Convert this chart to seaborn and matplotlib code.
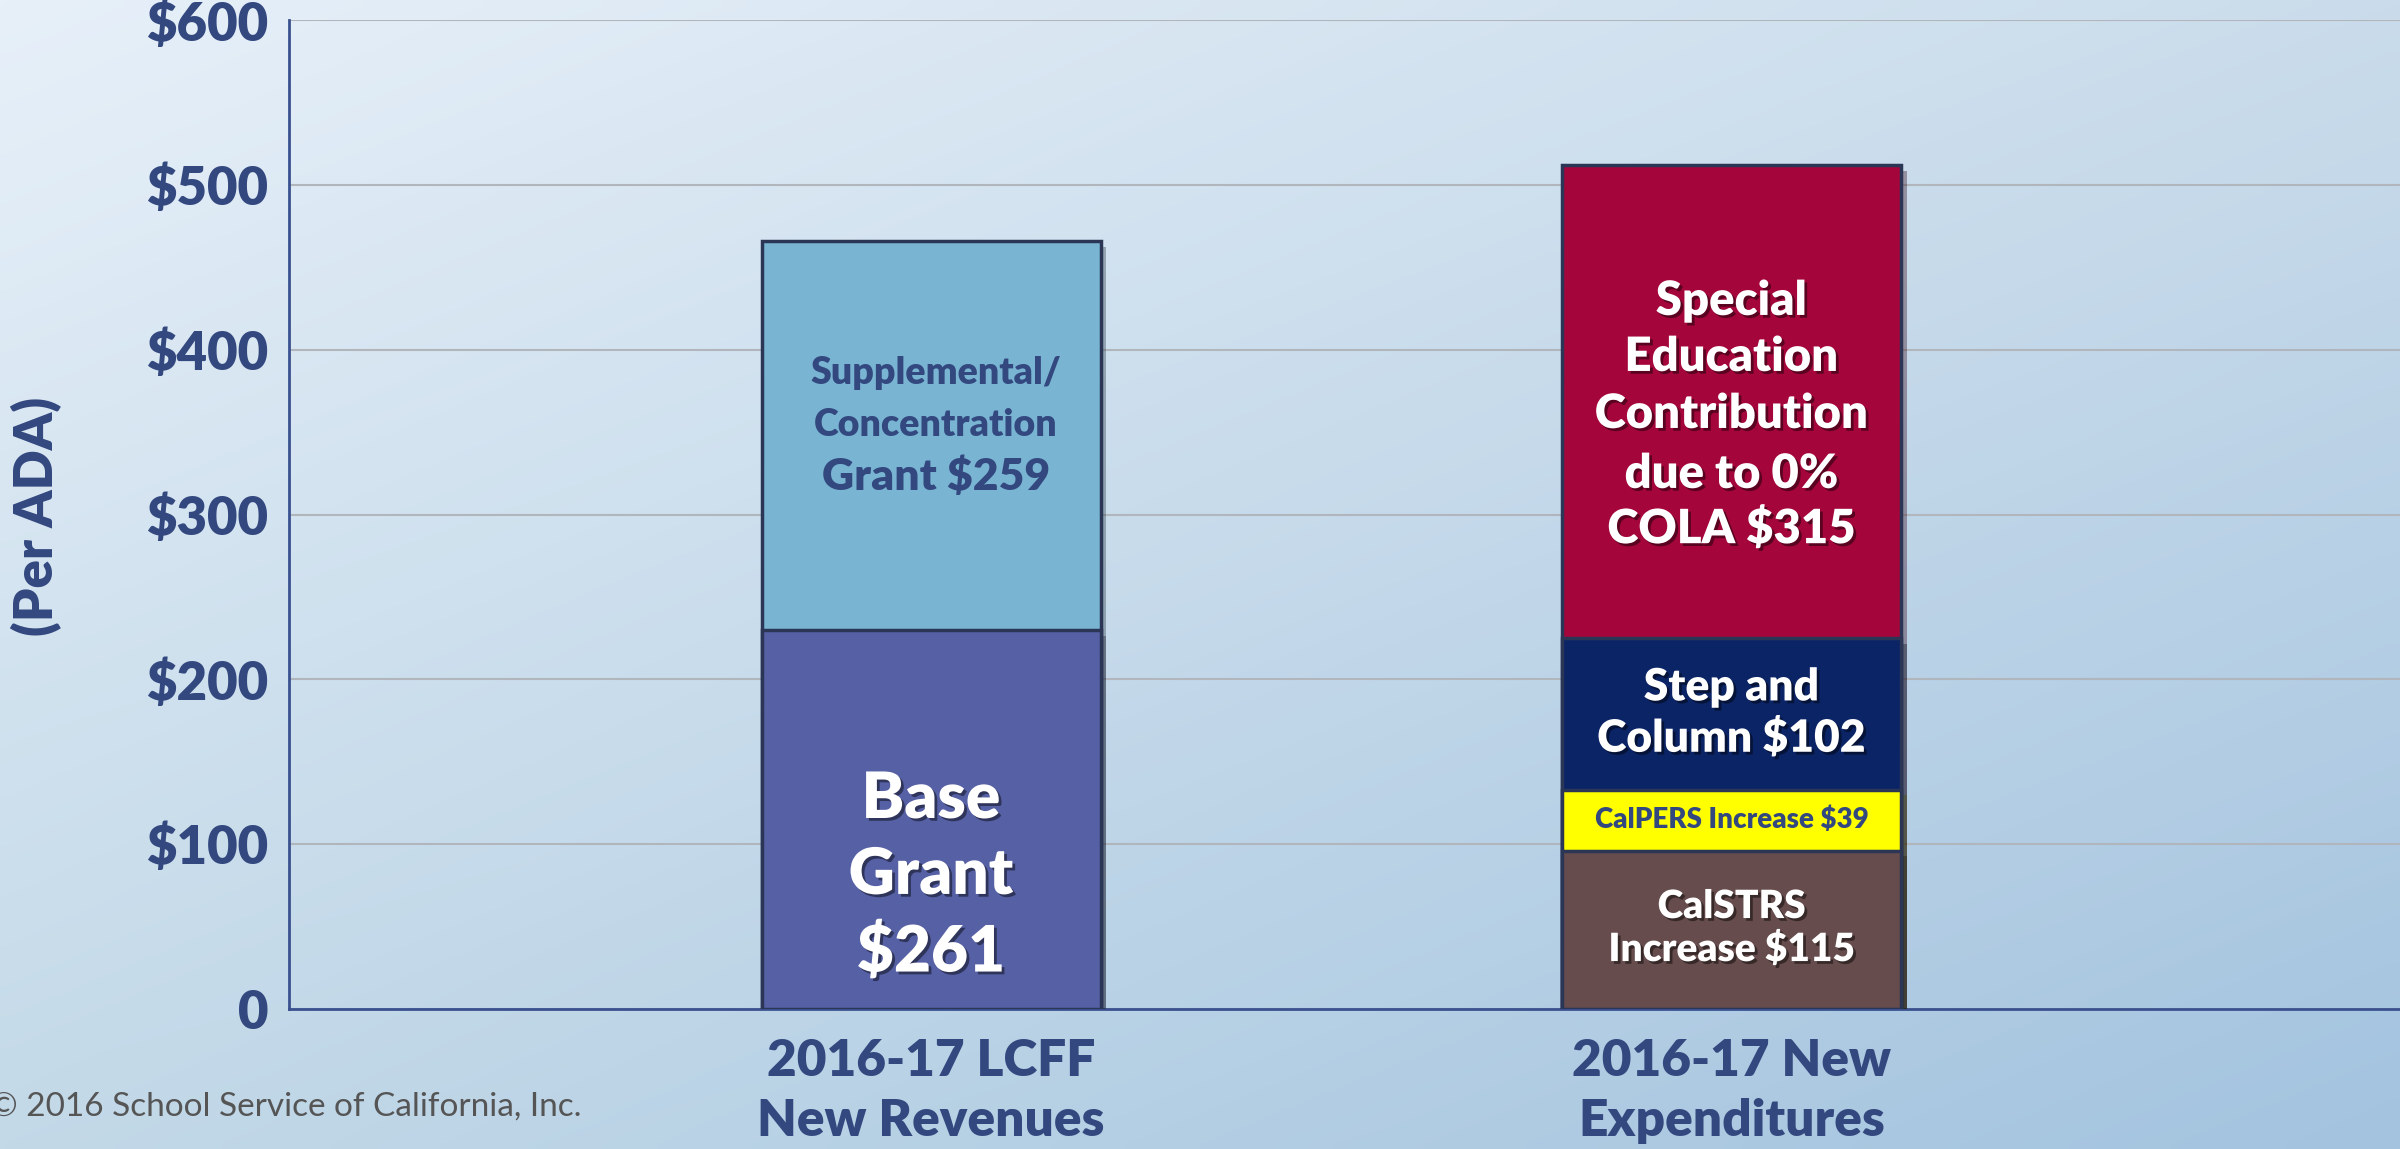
import numpy as np
import pandas as pd
import matplotlib
matplotlib.use("Agg")
import matplotlib.pyplot as plt
import seaborn as sns
from matplotlib import patheffects as pe

# ---------------- data ----------------
categories = ["2016-17 LCFF\nNew Revenues", "2016-17 New\nExpenditures"]

rev_segments = ["Base Grant", "Supplemental/Concentration Grant"]
rev_values = [230, 236]          # drawn heights (per ADA)
rev_colors = ["#5660a5", "#79b5d3"]

exp_segments = ["CalSTRS Increase", "CalPERS Increase", "Step and Column",
                "Special Education Contribution"]
exp_values = [96, 37, 92, 287]   # drawn heights (per ADA)
exp_colors = ["#664c4c", "#ffff00", "#0b2466", "#a4063b"]

ytick_values = [0, 100, 200, 300, 400, 500, 600]
ytick_labels = ["0", "$100", "$200", "$300", "$400", "$500", "$600"]

# ---------------- style ----------------
sns.set_theme(style="white")
plt.rcParams["font.family"] = ["Lato", "DejaVu Sans"]
NAVY = "#33487f"
EDGE = "#2b3656"

# long table of stacked segments
rows = []
for cat, segs, vals, cols in [(categories[0], rev_segments, rev_values, rev_colors),
                              (categories[1], exp_segments, exp_values, exp_colors)]:
    cum = np.cumsum(vals)
    for s, v, c, t in zip(segs, vals, cols, cum):
        rows.append(dict(category=cat, segment=s, value=v, color=c, top=t))
df = pd.DataFrame(rows)

fig = plt.figure(figsize=(24, 11.49), dpi=100)

# background gradient
bg = fig.add_axes([0, 0, 1, 1], zorder=-10)
tl = np.array([0xe7, 0xf0, 0xf9]) / 255
tr = np.array([0xca, 0xdc, 0xeb]) / 255
bl = np.array([0xc3, 0xd9, 0xe8]) / 255
br = np.array([0xa3, 0xc3, 0xdf]) / 255
u = np.linspace(0, 1, 240)[None, :, None]
v = np.linspace(0, 1, 115)[:, None, None]
grad = (1 - v) * ((1 - u) * tl + u * tr) + v * ((1 - u) * bl + u * br)
bg.imshow(grad, aspect="auto", extent=[0, 1, 0, 1], interpolation="bilinear")
bg.set_axis_off()

ax = fig.add_axes([0.12042, 0.12185, 0.87958, 0.86031])
ax.set_facecolor("none")

bar_w = 0.4235
for _, r in df.sort_values("top", ascending=False).iterrows():
    sns.barplot(data=df[df.segment == r.segment], x="category", y="top",
                order=categories, color=r.color, saturation=1, width=bar_w,
                errorbar=None, edgecolor=EDGE, linewidth=2.5, ax=ax, zorder=3)

for p in ax.patches:
    p.set_path_effects([pe.SimplePatchShadow(offset=(4, -4), alpha=0.35), pe.Normal()])

ax.set_xlim(-0.802, 1.835)
ax.set_ylim(0, 600)
ax.set_yticks(ytick_values)
ax.set_yticklabels(ytick_labels, fontsize=38, fontweight="heavy", color=NAVY)
ax.set_xticks([0, 1])
ax.set_xticklabels(categories, fontsize=37, fontweight="heavy", color=NAVY,
                   linespacing=1.37)
ax.tick_params(axis="y", length=6, width=1.5, color="#a6aab2", pad=9)
ax.tick_params(axis="x", length=0, pad=21)
ax.set_xlabel("")
ax.set_ylabel("")
ax.yaxis.grid(True, color="#b1b5bc", linewidth=1.5)
ax.set_axisbelow(True)
for s in ["top", "right"]:
    ax.spines[s].set_visible(False)
for s in ["left", "bottom"]:
    ax.spines[s].set_color("#3a5190")
    ax.spines[s].set_linewidth(2)

shadow = [pe.SimplePatchShadow(offset=(2, -2), shadow_rgbFace="black", alpha=0.45), pe.Normal()]

def put(x, ys, lines, size, color, fx=None):
    for y, t in zip(ys, lines):
        ax.text(x, y, t, ha="center", va="center_baseline", fontsize=size,
                fontweight="heavy", color=color, path_effects=fx, zorder=6)

put(0, [130.5, 84.4, 37.6], ["Base", "Grant", "$261"], 46, "white", shadow)
put(0.006, [387.9, 356.3], ["Supplemental/", "Concentration"], 27, NAVY)
put(0.006, [325.3], ["Grant $259"], 32, NAVY)
put(1, [432.2, 398.2, 363.6, 327.2, 293.8],
    ["Special", "Education", "Contribution", "due to 0%", "COLA $315"], 34, "white", shadow)
put(1, [197.3, 166.3], ["Step and", "Column $102"], 32, "white", shadow)
put(1, [116.5], ["CalPERS Increase $39"], 20, NAVY)
put(1, [64.3, 38.2], ["CalSTRS", "Increase $115"], 28, "white", shadow)

fig.text(37 / 2400, 1 - 516 / 1149, "(Per ADA)", rotation=90, ha="center", va="center",
         fontsize=38, fontweight="heavy", color=NAVY)
fig.text(-0.004, 1 - 1107 / 1149, "© 2016 School Service of California, Inc.",
         ha="left", va="center", fontsize=24, color="#555555")

fig.savefig("out.png", dpi=100)
